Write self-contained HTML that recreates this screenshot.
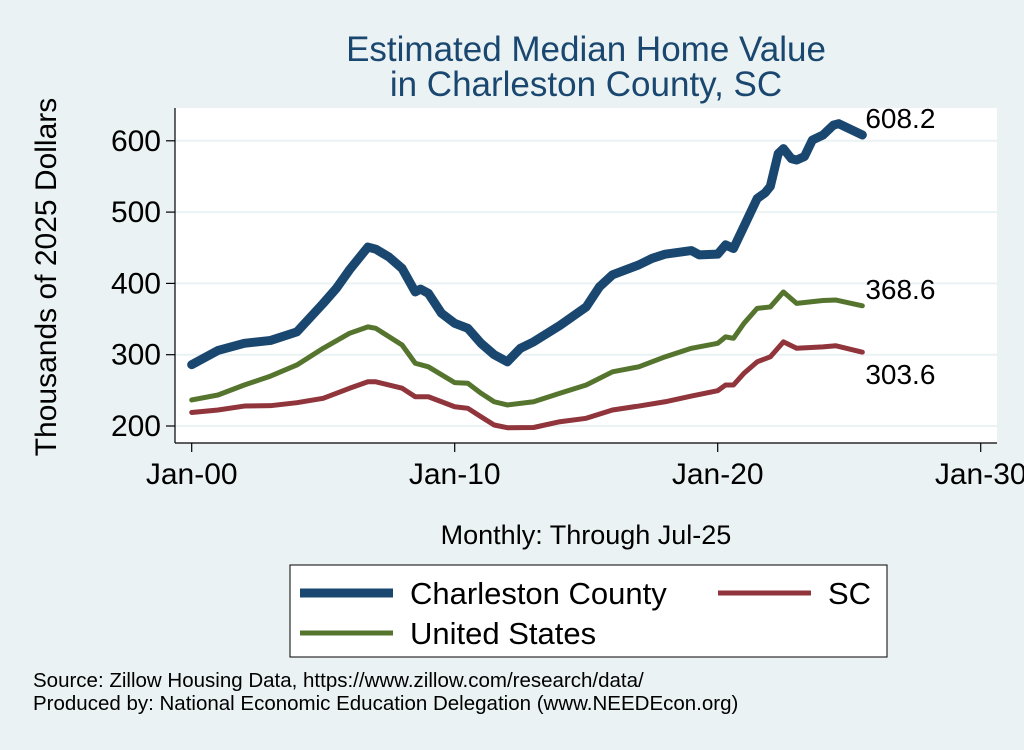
<!DOCTYPE html>
<html><head><meta charset="utf-8"><style>
body{margin:0;background:#eaf2f3;}
svg text{font-family:"Liberation Sans",Arial,sans-serif;}
</style></head><body>
<svg width="1024" height="745" viewBox="0 0 1024 745">
<rect x="0" y="0" width="1024" height="745" fill="#eaf2f3"/>
<text x="586" y="61" font-size="35" fill="#1a476f" text-anchor="middle">Estimated Median Home Value</text>
<text x="586" y="96" font-size="35" fill="#1a476f" text-anchor="middle">in Charleston County, SC</text>
<rect x="175" y="108" width="822" height="335" fill="#fff"/>
<g id="grid"></g>
<g id="axes"></g>
<g id="series"></g>
<text transform="translate(56,277) rotate(-90)" font-size="30" text-anchor="middle" fill="#000">Thousands of 2025 Dollars</text>
<text x="586" y="544" font-size="27" text-anchor="middle" fill="#000">Monthly: Through Jul-25</text>
<g>
<rect x="290" y="565" width="597" height="92" fill="#fff" stroke="#000" stroke-width="1"/>
<g><line x1="300" y1="593" x2="393" y2="593" stroke="#1a476f" stroke-width="9"/><text x="410" y="604" font-size="31">Charleston County</text></g>
<g><line x1="718" y1="593" x2="811" y2="593" stroke="#90353b" stroke-width="5"/><text x="828" y="604" font-size="31">SC</text></g>
<g><line x1="300" y1="633" x2="393" y2="633" stroke="#55752f" stroke-width="5"/><text x="410" y="644" font-size="31">United States</text></g>
</g>
<text x="33" y="687" font-size="20.5">Source: Zillow Housing Data, https://www.zillow.com/research/data/</text>
<text x="33" y="710" font-size="20.5">Produced by: National Economic Education Delegation (www.NEEDEcon.org)</text>
</svg>
<script>
const yTicks=[200,300,400,500,600];
const xTickYears=[2000,2010,2020,2030];
const xTickLabels=["Jan-00","Jan-10","Jan-20","Jan-30"];
const chsYears=[2000,2001,2002,2003,2004,2005,2005.5,2006,2006.7,2007,2007.5,2008,2008.5,2008.7,2009,2009.5,2010,2010.5,2011,2011.5,2012,2012.5,2013,2014,2015,2015.5,2016,2017,2017.5,2018,2019,2019.3,2020,2020.3,2020.6,2021,2021.5,2021.8,2022,2022.3,2022.5,2022.8,2023,2023.3,2023.6,2024,2024.4,2024.6,2025,2025.5];
const chsVals=[286,306,316,320,332,372,393,419,451,448,437,421,388,392,386,358,344,337,316,300,290,309,318,341,367,395,412,426,435,441,446,440,441,454,449,480,519,527,536,582,589,575,573,578,601,608,622,624,617,608.2];
const usYears=[2000,2001,2002,2003,2004,2005,2006,2006.7,2007,2008,2008.5,2009,2010,2010.5,2011,2011.5,2012,2013,2014,2015,2016,2017,2018,2019,2020,2020.3,2020.6,2021,2021.5,2022,2022.5,2023,2024,2024.5,2025.5];
const usVals=[236.5,243.5,257.5,270,285.6,309,330,339,337,313.6,288,283,260.8,260,246,234,229.5,234,246,257.5,276,283,297,309,316,325,323,344,365,367,388,372,376,376.7,368.6];
const scYears=[2000,2001,2002,2003,2004,2005,2006,2006.7,2007,2008,2008.5,2009,2010,2010.5,2011,2011.5,2012,2013,2014,2015,2016,2017,2018,2019,2020,2020.3,2020.6,2021,2021.5,2022,2022.5,2023,2024,2024.5,2025.5];
const scVals=[219,222.4,228,228.5,232.7,238.8,252.9,262,262,253,241,241,227,224.8,213,201.4,197.6,197.9,206,210.8,222.4,228,234,242,249.5,257.5,257.5,274,290,297,318,309,311,312.5,303.6];
const lastLabels=["608.2","368.6","303.6"];

const NS="http://www.w3.org/2000/svg";
function X(yr){return 191.7+(yr-2000)*26.3;}
function Y(v){return 426-(v-200)*0.713;}
function mk(tag,attrs,parent){const e=document.createElementNS(NS,tag);for(const k in attrs)e.setAttribute(k,attrs[k]);parent.appendChild(e);return e;}
const grid=document.getElementById('grid'),axes=document.getElementById('axes'),series=document.getElementById('series');
yTicks.forEach(v=>{
  const g=mk('line',{x1:175,x2:997,y1:Y(v),y2:Y(v),stroke:'#eaf2f3','stroke-width':2},grid);
  
  
  const t=mk('line',{x1:166,x2:175,y1:Y(v),y2:Y(v),stroke:'#000','stroke-width':1.2},axes);
  
  
  const l=mk('text',{x:161,y:Y(v)+10,'font-size':30,'text-anchor':'end'},axes);
  l.textContent=v;
  
  
});
mk('line',{x1:175,x2:175,y1:108,y2:443,stroke:'#000','stroke-width':1.2},axes);
mk('line',{x1:175,x2:997,y1:443,y2:443,stroke:'#000','stroke-width':1.2},axes);
xTickYears.forEach((yr,i)=>{
  const t=mk('line',{x1:X(yr),x2:X(yr),y1:443,y2:452,stroke:'#000','stroke-width':1.2},axes);
  
  
  const l=mk('text',{x:X(yr),y:484,'font-size':30,'text-anchor':'middle'},axes);
  l.textContent=xTickLabels[i];
  
  
});
function draw(xs,vs,color,w,name){
  const p=mk('polyline',{points:xs.map((x,i)=>X(x)+','+Y(vs[i])).join(' '),fill:'none',stroke:color,'stroke-width':w,'stroke-linejoin':'round','stroke-linecap':'round'},series);
  
  
}
draw(scYears,scVals,'#90353b',5,'line-sc');
draw(usYears,usVals,'#55752f',5,'line-united-states');
draw(chsYears,chsVals,'#1a476f',9,'line-charleston-county');
const ends=[[chsYears,chsVals,-7],[usYears,usVals,-7],[scYears,scVals,32]];
ends.forEach((e,i)=>{
  const xs=e[0],vs=e[1];
  const l=mk('text',{x:X(xs[xs.length-1])+3,y:Y(vs[vs.length-1])+e[2],'font-size':28},series);
  l.textContent=lastLabels[i];
  
  
});
</script>
</body></html>
